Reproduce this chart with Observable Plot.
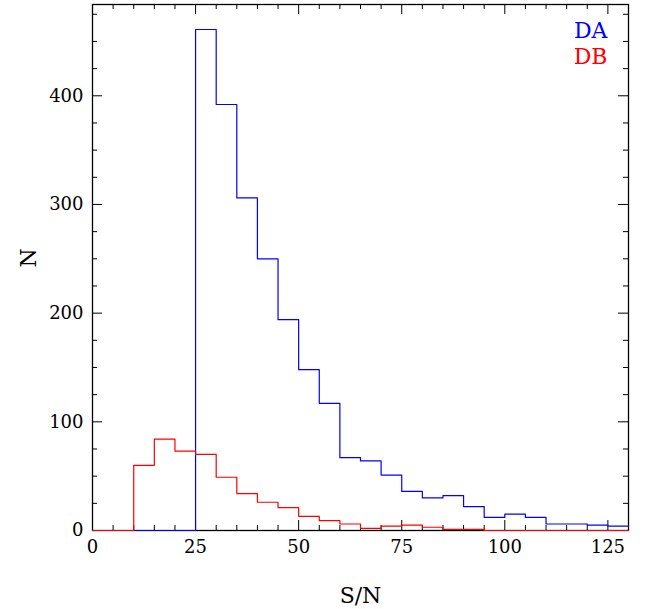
<!DOCTYPE html>
<html><head><meta charset="utf-8">
<script src="https://cdn.jsdelivr.net/npm/d3@7"></script>
<script src="https://cdn.jsdelivr.net/npm/@observablehq/plot@0.6"></script>
<style>body{margin:0;background:#fff} #chart svg{display:block}</style>
</head><body><div id="chart"></div>
<script>
// Histogram bins (S/N), width 5
const binStarts = [0,5,10,15,20,25,30,35,40,45,50,55,60,65,70,75,80,85,90,95,100,105,110,115,120,125];
const lastBinEnd = 130;
const countsDA = [0,0,0,0,0,461,392,306,250,194,148,117,67,64,51,36,30,32,22,12,15,12,6,6,5,4];
const countsDB = [0,0,60,84,73,70,49,34,26,21,13,9,6,2,4,5,3,1,1,0,0,0,0,0,0,0];

const seriesNames = ["DA","DB"];
const seriesColors = ["#0000ff","#ff0000"];

const xMajorTicks = [0,25,50,75,100,125];
const xMinorTicks = [5,10,15,20,30,35,40,45,55,60,65,70,80,85,90,95,105,110,115,120];
const yMajorTicks = [0,100,200,300,400];
const yMinorTicks = [25,50,75,125,150,175,225,250,275,325,350,375,425,450,475];

const xLabel = "S/N";
const yLabel = "N";

// layout
const W = 651, H = 609;
const mL = 92, mR = 23, mT = 4, mB = 79;
const fw = W - mL - mR, fh = H - mT - mB;
const majLen = 10, minLen = 5;
const font = "DejaVu Serif";

function stepData(counts) {
  const d = binStarts.map((x, i) => ({x, y: counts[i]}));
  d.push({x: lastBinEnd, y: counts[counts.length - 1]});
  return d;
}

const chart = Plot.plot({
  width: W, height: H,
  marginLeft: mL, marginRight: mR, marginTop: mT, marginBottom: mB,
  style: {fontFamily: font, fontSize: "18px", background: "#fff", color: "#000"},
  x: {domain: [0, lastBinEnd]},
  y: {domain: [0, 484]},
  marks: [
    // inward ticks, bottom & top
    Plot.tickX(xMajorTicks, {x: d => d, insetTop: fh - majLen, stroke: "#000"}),
    Plot.tickX(xMajorTicks, {x: d => d, insetBottom: fh - majLen, stroke: "#000"}),
    Plot.tickX(xMinorTicks, {x: d => d, insetTop: fh - minLen, stroke: "#000"}),
    Plot.tickX(xMinorTicks, {x: d => d, insetBottom: fh - minLen, stroke: "#000"}),
    // inward ticks, left & right
    Plot.tickY(yMajorTicks, {y: d => d, insetRight: fw - majLen, stroke: "#000"}),
    Plot.tickY(yMajorTicks, {y: d => d, insetLeft: fw - majLen, stroke: "#000"}),
    Plot.tickY(yMinorTicks, {y: d => d, insetRight: fw - minLen, stroke: "#000"}),
    Plot.tickY(yMinorTicks, {y: d => d, insetLeft: fw - minLen, stroke: "#000"}),
    Plot.frame({stroke: "#000", strokeWidth: 1.3}),
    Plot.line(stepData(countsDA), {x: "x", y: "y", curve: "step-after", stroke: seriesColors[0], strokeWidth: 1.2}),
    Plot.line(stepData(countsDB), {x: "x", y: "y", curve: "step-after", stroke: seriesColors[1], strokeWidth: 1.2}),
    Plot.axisX({ticks: xMajorTicks, tickSize: 0, tickPadding: 10, label: null, fontSize: 18, tickFormat: d => String(d)}),
    Plot.axisY({ticks: yMajorTicks, tickSize: 0, tickPadding: 9, label: null, fontSize: 18, tickFormat: d => String(d)}),
    Plot.text([xLabel], {text: d => d, frameAnchor: "bottom", dy: 65, fontSize: 22, lineAnchor: "middle"}),
    Plot.text([yLabel], {text: d => d, frameAnchor: "left", dx: -64, rotate: -90, fontSize: 22, lineAnchor: "middle"}),
    Plot.text([seriesNames[0]], {text: d => d, frameAnchor: "top-right", dx: -21, dy: 33, lineAnchor: "bottom", textAnchor: "end", fill: seriesColors[0], fontSize: 22}),
    Plot.text([seriesNames[1]], {text: d => d, frameAnchor: "top-right", dx: -21, dy: 59, lineAnchor: "bottom", textAnchor: "end", fill: seriesColors[1], fontSize: 22})
  ]
});
document.getElementById("chart").appendChild(chart);
</script>
</body></html>
